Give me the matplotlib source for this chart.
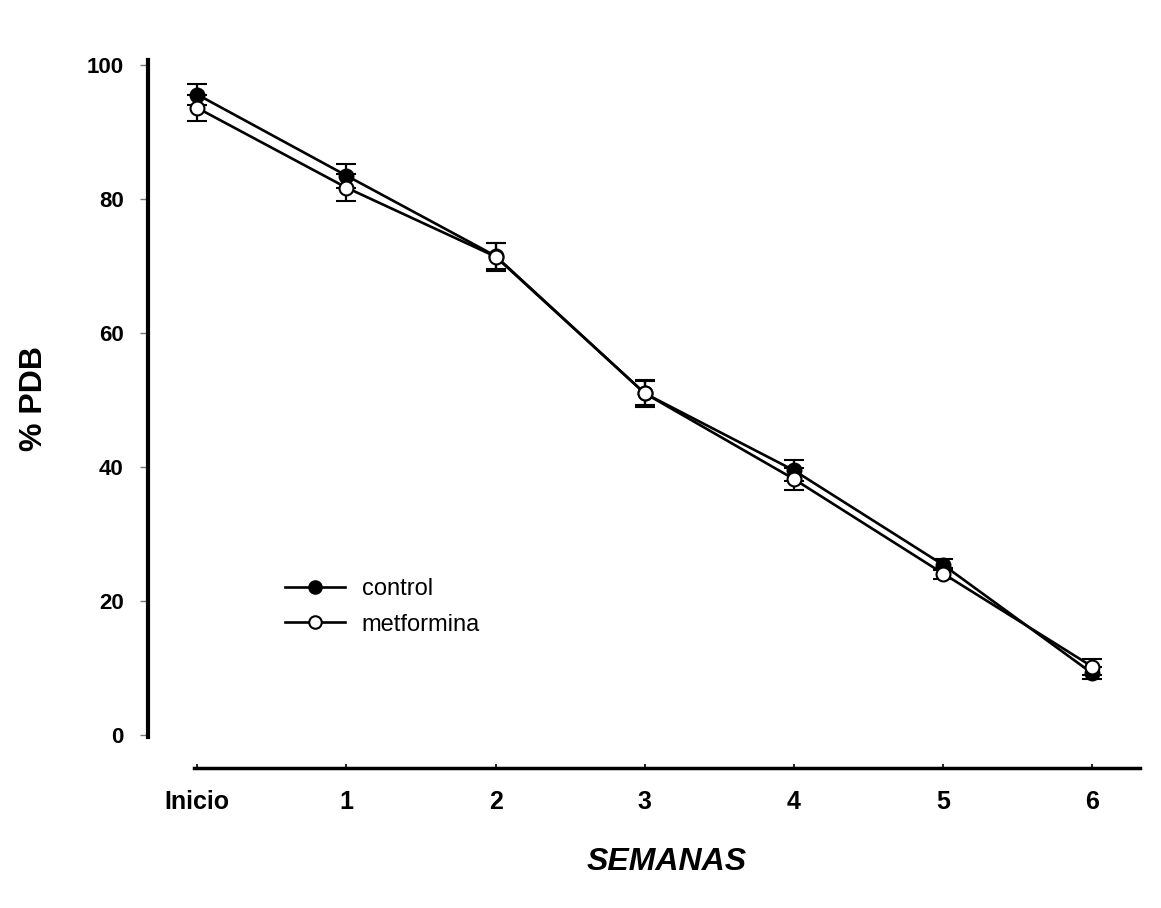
import matplotlib
matplotlib.use("Agg")
import matplotlib.pyplot as plt
from matplotlib.lines import Line2D

plt.rcParams['font.family'] = ['Liberation Sans', 'DejaVu Sans']

weeks = [0, 1, 2, 3, 4, 5, 6]
week_labels = ["Inicio", "1", "2", "3", "4", "5", "6"]
control = [95.6, 83.5, 71.5, 51.0, 39.5, 25.4, 9.2]
control_err = [1.5, 1.8, 2.0, 1.8, 1.6, 0.8, 0.9]
metformina = [93.6, 81.7, 71.4, 51.0, 38.2, 24.1, 10.2]
metformina_err = [1.9, 2.0, 2.1, 2.0, 1.6, 0.8, 1.2]

W, H = 1161, 908
fig = plt.figure(figsize=(W/100, H/100), dpi=100)
ax = fig.add_axes([148/W, 1-737/H, (1140-148)/W, (737-60)/H])

ax.errorbar(weeks, control, yerr=control_err, color='black', lw=1.9,
            marker='o', ms=10, mfc='black', mec='black', mew=1.5,
            capsize=7, capthick=1.6, elinewidth=1.6, zorder=3)
ax.errorbar(weeks, metformina, yerr=metformina_err, color='black', lw=1.9,
            marker='o', ms=10, mfc='white', mec='black', mew=1.5,
            capsize=7, capthick=1.6, elinewidth=1.6, zorder=4)

ax.set_xlim(-0.33, 6.32)
ax.set_ylim(-0.3, 100.75)
ax.set_xticks(weeks)
ax.set_xticklabels(week_labels)
ax.set_yticks([0, 20, 40, 60, 80, 100])

ax.spines['top'].set_visible(False)
ax.spines['right'].set_visible(False)
ax.spines['left'].set_linewidth(3)
ax.spines['bottom'].set_linewidth(2.5)
ax.spines['bottom'].set_position(('outward', 22.3))
ax.spines['bottom'].set_bounds(-0.02, 6.32)

ax.tick_params(axis='y', direction='out', length=6, width=1, color='#777777',
               labelsize=16, pad=11.5)
ax.tick_params(axis='x', direction='in', length=3, width=1.2, labelsize=18, pad=16)
for lab in ax.get_xticklabels() + ax.get_yticklabels():
    lab.set_fontweight('bold')

ax.set_ylabel("% PDB", fontsize=23, fontweight='bold')
ax.yaxis.set_label_coords((49-148)/992, 0.5)
ax.set_xlabel("SEMANAS", fontsize=23, fontweight='bold', style='italic')
ax.xaxis.set_label_coords((667-148)/992, -(847-737)/677)

handles = [
    Line2D([], [], color='black', lw=1.9, marker='o', ms=9, mfc='black', mec='black', mew=1.5),
    Line2D([], [], color='black', lw=1.9, marker='o', ms=9, mfc='white', mec='black', mew=1.5),
]
leg = ax.legend(handles, ['control', 'metformina'], loc='upper left',
                bbox_to_anchor=((285-148)/992, (737-578)/677), frameon=False,
                fontsize=17, handlelength=2.55, labelspacing=0.58,
                handletextpad=0.7, borderpad=0, borderaxespad=0)

fig.savefig("out.png", dpi=100)
